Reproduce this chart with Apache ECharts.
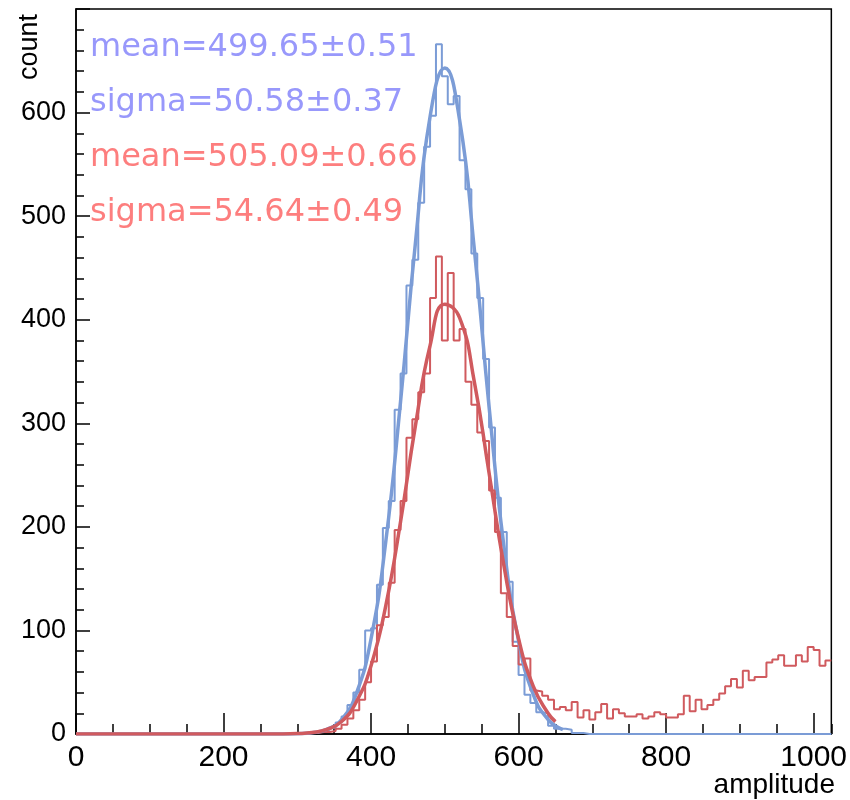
<!DOCTYPE html>
<html>
<head>
<meta charset="utf-8">
<script src="https://cdn.jsdelivr.net/npm/echarts@6/dist/echarts.min.js"></script>
<style>
  html, body { margin: 0; padding: 0; background: #fff; }
  #chart { width: 850px; height: 800px; }
</style>
</head>
<body>
<div id="chart"></div>
<script>
// histogram: 128 bins of width 8 on 0..1024
const binWidth = 8
const blueCounts = [
  0, 0, 0, 0, 0, 0, 0, 0, 0, 0,
  0, 0, 0, 0, 0, 0, 0, 0, 0, 0,
  0, 0, 0, 0, 0, 0, 0, 0, 0, 0,
  0, 0, 0, 0, 0, 0, 0, 0, 0, 1,
  1, 3, 4, 6, 11, 17, 28, 40, 62, 100,
  102, 144, 199, 225, 313, 348, 433, 458, 513, 567,
  597, 666, 635, 608, 616, 554, 526, 464, 421, 362,
  296, 228, 195, 147, 89, 57, 38, 30, 21, 20,
  8, 5, 5, 4, 1, 1, 0, 0, 0, 0,
  0, 0, 0, 0, 0, 0, 0, 0, 0, 0,
  0, 0, 0, 0, 0, 0, 0, 0, 0, 0,
  0, 0, 0, 0, 0, 0, 0, 0, 0, 0,
  0, 0, 0, 0, 0, 0, 0, 0
]
const redCounts = [
  0, 0, 0, 0, 0, 0, 0, 0, 0, 0,
  0, 0, 0, 0, 0, 0, 0, 0, 0, 0,
  0, 0, 0, 0, 0, 0, 0, 0, 0, 0,
  0, 0, 0, 0, 0, 0, 0, 0, 0, 1,
  1, 2, 2, 3, 5, 9, 15, 23, 33, 50,
  70, 105, 113, 146, 197, 225, 286, 304, 330, 348,
  421, 461, 380, 445, 380, 391, 340, 318, 291, 283,
  235, 195, 136, 113, 85, 67, 73, 42, 41, 37,
  33, 24, 26, 23, 31, 16, 23, 14, 21, 29,
  15, 24, 20, 17, 17, 19, 15, 17, 21, 19,
  16, 16, 19, 37, 22, 33, 24, 28, 33, 39,
  46, 53, 45, 61, 52, 55, 55, 69, 72, 76,
  66, 66, 76, 70, 84, 81, 66, 71
]

// fitted curves
const blueFitX = [0, 280, 300, 320, 340, 360, 380, 400, 420, 440, 460, 480, 500, 520, 540, 560, 580, 600, 620, 640, 660]
const blueFitY = [0, 0, 0.3, 1.2, 4.4, 14, 39, 92, 186, 321, 473, 596, 643, 593, 468, 316, 182, 90, 38, 14, 4.2]
const redFitX = [0, 280, 300, 320, 340, 360, 380, 400, 420, 440, 460, 480, 500, 520, 540, 560, 580, 600, 620, 640, 650]
const redFitY = [0, 0.1, 0.4, 1.4, 4.4, 12, 31, 66, 124, 205, 297, 375, 415, 402, 340, 252, 163, 92, 46, 20, 12]

const blueStats = ['mean=499.65±0.51', 'sigma=50.58±0.37']
const redStats = ['mean=505.09±0.66', 'sigma=54.64±0.49']

const blueLine = '#7b9cd6'
const redLine = '#d05a5e'
const blueText = '#9898fb'
const redText = '#fd7e7e'
const axisFont = 'Liberation Sans, Arial, sans-serif'

function histPoints(counts) {
  const pts = counts.map((v, i) => [i * binWidth, v])
  pts.push([counts.length * binWidth, counts[counts.length - 1]])
  return pts
}

function fitPoints(xs, ys) {
  return xs.map((x, i) => [x, ys[i]])
}

const statTexts = []
blueStats.concat(redStats).forEach((s, i) => {
  statTexts.push({
    type: 'text',
    x: 90,
    y: 48 + i * 55,
    z: 100,
    style: {
      text: s,
      fill: i < 2 ? blueText : redText,
      font: '32px "DejaVu Sans", sans-serif',
      verticalAlign: 'middle'
    }
  })
})

const myChart = echarts.init(document.getElementById('chart'))
myChart.setOption({
  backgroundColor: '#fff',
  animation: false,
  grid: {
    left: 76,
    right: 12,
    top: 9,
    bottom: 66,
    show: true,
    borderColor: '#000',
    borderWidth: 1.5,
    backgroundColor: 'transparent'
  },
  xAxis: [{
    type: 'value',
    min: 0,
    max: 1024,
    interval: 200,
    axisLine: { show: true, onZero: false, lineStyle: { color: '#000', width: 1.5 } },
    axisTick: { show: true, inside: true, length: 21, lineStyle: { color: '#000', width: 1.5 } },
    axisLabel: {
      color: '#000',
      fontSize: 30,
      fontFamily: axisFont,
      margin: 9,
      showMaxLabel: false,
      formatter: function(v) {
        return String(v)
      }
    },
    splitLine: { show: false }
  }, {
    // minor ticks every 50
    type: 'value',
    position: 'bottom',
    min: 0,
    max: 1024,
    interval: 50,
    axisLine: { show: false },
    axisTick: { show: true, inside: true, length: 10, lineStyle: { color: '#000', width: 1.5 } },
    axisLabel: { show: false },
    splitLine: { show: false }
  }],
  yAxis: {
    type: 'value',
    min: 0,
    max: 700,
    interval: 100,
    axisLine: { show: true, onZero: false, lineStyle: { color: '#000', width: 1.5 } },
    axisTick: { show: true, inside: true, length: 14, lineStyle: { color: '#000', width: 1.5 } },
    minorTick: { show: true, splitNumber: 5, length: 8, lineStyle: { color: '#000', width: 1.5 } },
    axisLabel: {
      color: '#000',
      fontSize: 27,
      fontFamily: axisFont,
      margin: 10,
      formatter: function(v) {
        return v === 700 ? '' : String(v)
      }
    },
    splitLine: { show: false }
  },
  graphic: [{
    type: 'text',
    x: 30,
    y: 14,
    rotation: Math.PI / 2,
    style: {
      text: 'count',
      fill: '#000',
      font: '27px "Liberation Sans", Arial, sans-serif',
      align: 'right',
      verticalAlign: 'middle'
    }
  }, {
    type: 'text',
    x: 835,
    y: 785,
    style: {
      text: 'amplitude',
      fill: '#000',
      font: '28px "Liberation Sans", Arial, sans-serif',
      align: 'right',
      verticalAlign: 'middle'
    }
  }].concat(statTexts),
  series: [{
    name: 'blue hist',
    type: 'line',
    step: 'end',
    showSymbol: false,
    z: 2,
    lineStyle: { color: blueLine, width: 2 },
    data: histPoints(blueCounts)
  }, {
    name: 'red hist',
    type: 'line',
    step: 'end',
    showSymbol: false,
    z: 3,
    lineStyle: { color: redLine, width: 2 },
    data: histPoints(redCounts)
  }, {
    name: 'blue fit',
    type: 'line',
    smooth: 0.5,
    showSymbol: false,
    z: 4,
    lineStyle: { color: blueLine, width: 3.5 },
    data: fitPoints(blueFitX, blueFitY)
  }, {
    name: 'red fit',
    type: 'line',
    smooth: 0.5,
    showSymbol: false,
    z: 5,
    lineStyle: { color: redLine, width: 3.5 },
    data: fitPoints(redFitX, redFitY)
  }]
})
</script>
</body>
</html>
